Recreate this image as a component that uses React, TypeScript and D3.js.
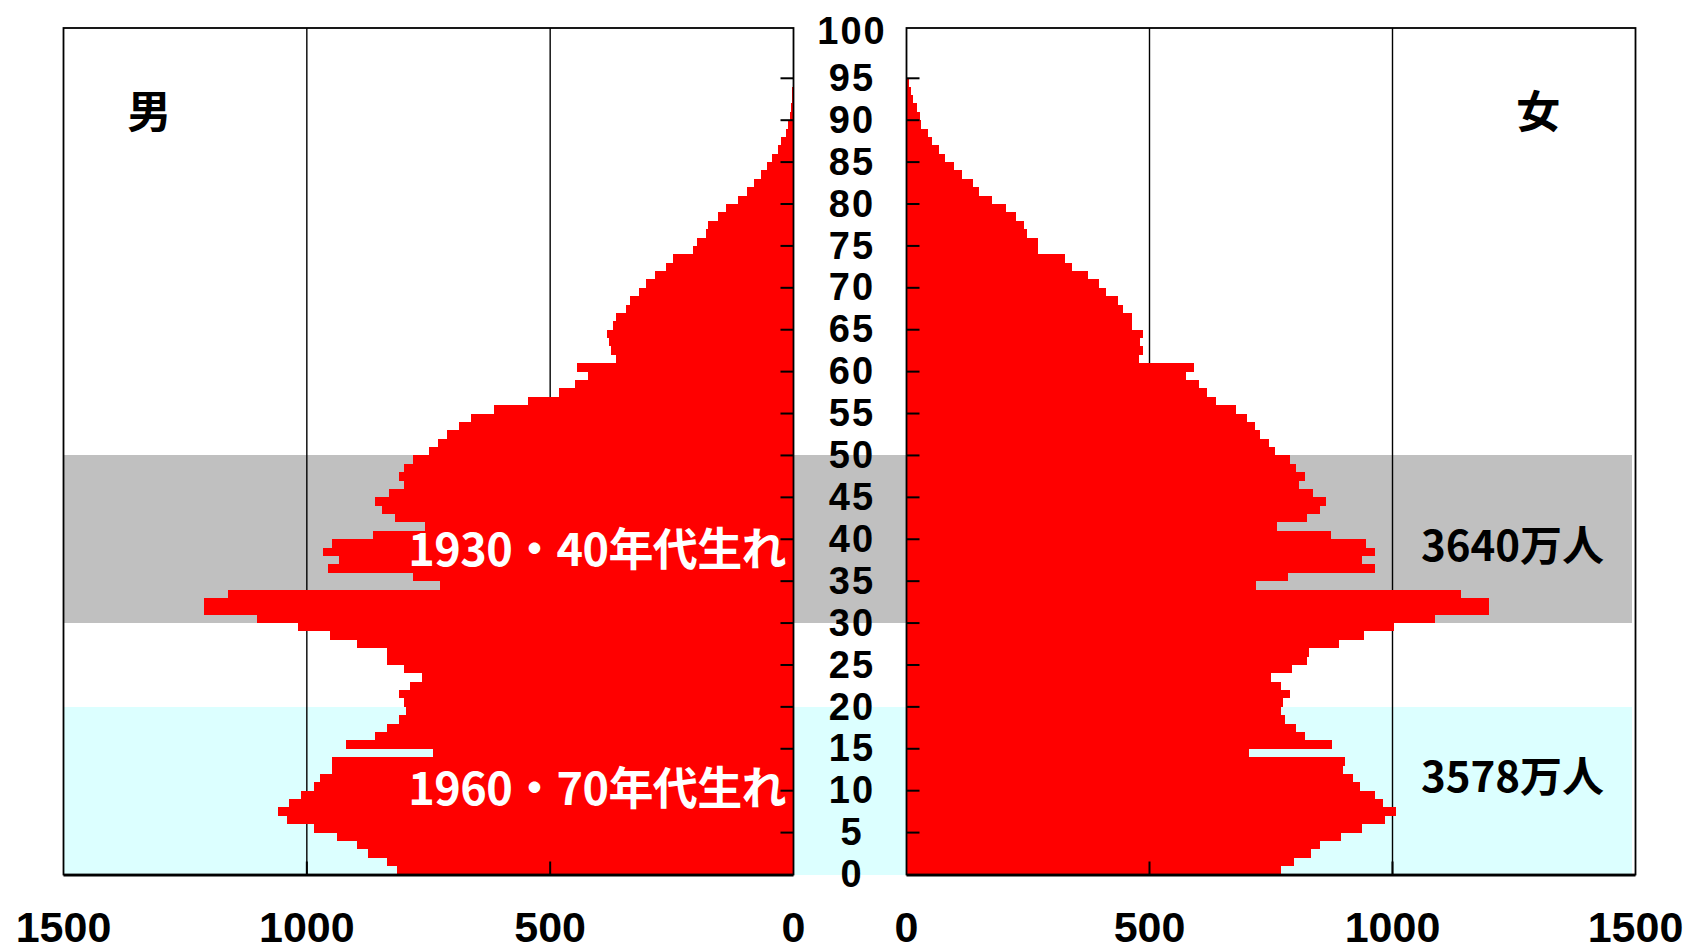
import React from 'react';
import * as d3 from 'd3';

// Population (10,000s) by single year of age, index = age 0..94
const male = [
  814, 836, 875, 897, 939, 985, 1041, 1060, 1037, 1012,
  985, 972, 949, 949, 740, 919, 860, 836, 810, 796,
  801, 810, 787, 763, 801, 836, 836, 897, 952, 1019,
  1102, 1212, 1212, 1163, 727, 781, 957, 934, 967, 949,
  865, 758, 819, 845, 860, 832, 801, 810, 801, 781,
  749, 731, 712, 688, 662, 615, 546, 482, 449, 422,
  445, 365, 375, 379, 384, 370, 365, 345, 336, 318,
  304, 285, 262, 248, 207, 198, 179, 175, 156, 138,
  114, 95, 81, 67, 54, 45, 31, 26, 16, 11,
  7, 6, 4, 3, 1,
];
const female = [
  771, 797, 833, 850, 894, 938, 985, 1007, 981, 964,
  933, 919, 899, 903, 705, 875, 820, 802, 779, 771,
  775, 789, 771, 749, 793, 824, 828, 890, 942, 1003,
  1088, 1199, 1199, 1141, 719, 784, 964, 938, 964, 946,
  873, 762, 824, 850, 863, 837, 807, 820, 802, 789,
  758, 745, 727, 718, 700, 679, 636, 618, 601, 575,
  592, 478, 486, 481, 486, 464, 464, 445, 436, 410,
  397, 374, 340, 326, 270, 270, 247, 242, 225, 204,
  176, 150, 136, 115, 97, 80, 67, 53, 44, 30,
  27, 22, 14, 10, 5,
];
const ageTicks = [0, 5, 10, 15, 20, 25, 30, 35, 40, 45, 50, 55, 60, 65, 70, 75, 80, 85, 90, 95, 100];
const valueTicks = [0, 500, 1000, 1500];
const gridValues = [500, 1000];
const bandRanges = [
  { from: 30, to: 50, label: '3640万人', note: '1930・40年代生れ' },
  { from: 0, to: 20, label: '3578万人', note: '1960・70年代生れ' },
];
const bandColors = ['#c0c0c0', '#dcffff'];
const sexLabels = ['男', '女'];

const W = 1688;
const H = 952;
const AGE_MAX = 101;

const CJK = "'Noto Sans CJK JP', 'Noto Sans CJK SC', sans-serif";
const LAT = "'Liberation Sans', Arial, sans-serif";

export default function App() {
  const y = d3.scaleLinear().domain([0, AGE_MAX]).range([874.5, 28]);
  const xL = d3.scaleLinear().domain([0, 1500]).range([793.5, 63.5]);
  const xR = d3.scaleLinear().domain([0, 1500]).range([906.5, 1635.5]);
  const midX = 852;

  const noteY = [y(38.8), y(10.2)];
  const totalY = [y(39.2), y(11.6)];

  return (
    <svg
      width={W}
      height={H}
      viewBox={`0 0 ${W} ${H}`}
      style={{ position: 'absolute', left: 0, top: 0, display: 'block', background: '#fff' }}
    >
      {/* bands */}
      {bandRanges.map((b, i) => (
        <rect
          key={'band' + i}
          x={xL(1500)}
          y={y(b.to)}
          width={xR(1492) - xL(1500)}
          height={y(b.from) - y(b.to)}
          fill={bandColors[i]}
          shapeRendering="crispEdges"
        />
      ))}

      {/* grid lines */}
      {gridValues.map((v) => (
        <g key={'g' + v}>
          <line x1={xL(v)} x2={xL(v)} y1={y(AGE_MAX)} y2={y(0)} stroke="#000" strokeWidth={1.4} />
          <line x1={xR(v)} x2={xR(v)} y1={y(AGE_MAX)} y2={y(0)} stroke="#000" strokeWidth={1.4} />
        </g>
      ))}

      {/* bars */}
      <g shapeRendering="crispEdges" fill="#ff0000">
        {male.map((v, a) => (
          <rect key={'m' + a} x={xL(v)} y={y(a + 1)} width={xL(0) - xL(v)} height={y(a) - y(a + 1)} />
        ))}
        {female.map((v, a) => (
          <rect key={'f' + a} x={xR(0)} y={y(a + 1)} width={xR(v) - xR(0)} height={y(a) - y(a + 1)} />
        ))}
      </g>

      {/* panel borders */}
      <rect x={xL(1500)} y={y(AGE_MAX)} width={xL(0) - xL(1500)} height={y(0) - y(AGE_MAX)} fill="none" stroke="#000" strokeWidth={1.8} />
      <rect x={xR(0)} y={y(AGE_MAX)} width={xR(1500) - xR(0)} height={y(0) - y(AGE_MAX)} fill="none" stroke="#000" strokeWidth={1.8} />
      <line x1={xL(1500)} x2={xL(0)} y1={y(0) + 1} y2={y(0) + 1} stroke="#000" strokeWidth={2} />
      <line x1={xR(0)} x2={xR(1500)} y1={y(0) + 1} y2={y(0) + 1} stroke="#000" strokeWidth={2} />

      {/* age ticks */}
      {ageTicks.filter((t) => t > 0 && t < 100).map((t) => (
        <g key={'t' + t}>
          <line x1={xL(0) - 13} x2={xL(0)} y1={y(t)} y2={y(t)} stroke="#000" strokeWidth={2} />
          <line x1={xR(0)} x2={xR(0) + 13} y1={y(t)} y2={y(t)} stroke="#000" strokeWidth={2} />
        </g>
      ))}
      {/* bottom ticks */}
      {gridValues.map((v) => (
        <g key={'bt' + v}>
          <line x1={xL(v)} x2={xL(v)} y1={y(0)} y2={y(0) - 13} stroke="#000" strokeWidth={2} />
          <line x1={xR(v)} x2={xR(v)} y1={y(0)} y2={y(0) - 13} stroke="#000" strokeWidth={2} />
        </g>
      ))}

      {/* age labels */}
      {ageTicks.map((t) => (
        <text
          key={'al' + t}
          x={midX}
          y={t === 100 ? y(AGE_MAX) + 2 : y(t) - 1}
          dy="0.36em"
          textAnchor="middle"
          fontFamily={LAT}
          fontWeight="bold"
          fontSize={38}
          letterSpacing={2}
          fill="#000"
        >
          {t}
        </text>
      ))}

      {/* value labels */}
      {valueTicks.map((v) => (
        <g key={'vl' + v}>
          <text x={xL(v)} y={942} textAnchor="middle" fontFamily={LAT} fontWeight="bold" fontSize={43} fill="#000">{v}</text>
          <text x={xR(v)} y={942} textAnchor="middle" fontFamily={LAT} fontWeight="bold" fontSize={43} fill="#000">{v}</text>
        </g>
      ))}

      {/* sex labels */}
      <text x={xL(1324)} y={y(90.9)} dy="0.36em" textAnchor="middle" fontFamily={CJK} fontWeight="bold" fontSize={44} fill="#000">{sexLabels[0]}</text>
      <text x={xR(1300)} y={y(90.9)} dy="0.36em" textAnchor="middle" fontFamily={CJK} fontWeight="bold" fontSize={44} fill="#000">{sexLabels[1]}</text>

      {/* generation notes */}
      {bandRanges.map((b, i) => (
        <text
          key={'note' + i}
          x={786}
          y={noteY[i]}
          dy="0.36em"
          textAnchor="end"
          fontFamily={CJK}
          fontWeight="bold"
          fontSize={45}
          letterSpacing={-0.6}
          fill="#fff"
        >
          {b.note}
        </text>
      ))}

      {/* band totals */}
      {bandRanges.map((b, i) => (
        <text
          key={'tot' + i}
          x={xR(1247)}
          y={totalY[i]}
          dy="0.36em"
          textAnchor="middle"
          fontFamily={CJK}
          fontWeight="bold"
          fontSize={42}
          fill="#000"
        >
          {b.label}
        </text>
      ))}
    </svg>
  );
}
